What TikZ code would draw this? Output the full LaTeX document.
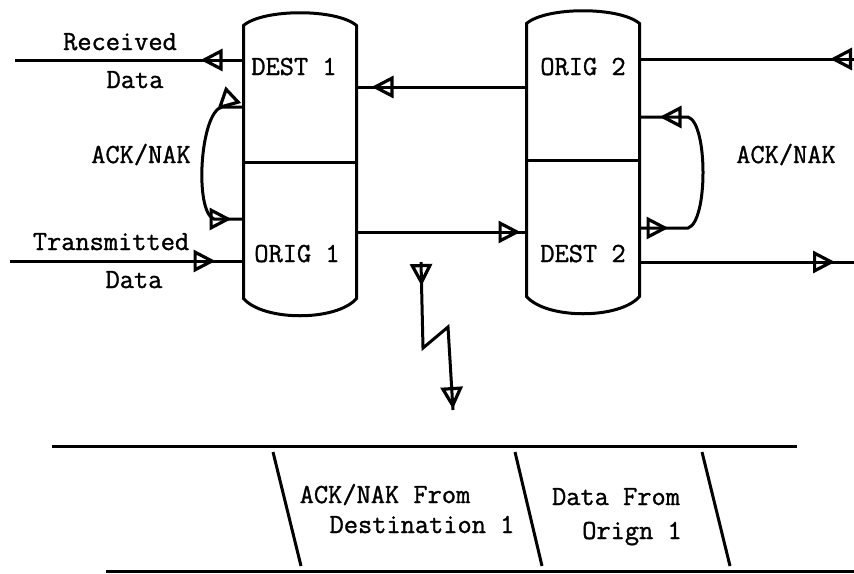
\documentclass[tikz,border=0pt]{standalone}
\usepackage{fontspec}
\setmonofont{Latin Modern Mono}[FakeBold=1.2]
\usepackage{tikz}
\usetikzlibrary{arrows.meta}
\usetikzlibrary{decorations.markings}
\usetikzlibrary{positioning,calc}

\begin{document}
\begin{tikzpicture}[x=0.5pt, y=-0.5pt, line width=1.5pt,
    txt/.style={font=\ttfamily\fontsize{13.8}{16}\selectfont, inner sep=0pt, anchor=base},
    station/.style={minimum width=55pt, minimum height=135pt, inner sep=0pt},
    flowmark/.style={postaction={decorate, decoration={markings,
      mark=at position #1 with {\arrow[line width=1.6pt]{Triangle[open, length=11pt, width=11pt]}}}}}
  ]
  \useasboundingbox (0,0) rectangle (854,573);

  \node[station] (st1) at (300,162) {};
  \node[station] (st2) at (583,160) {};
  \foreach \s in {st1,st2} {
    \draw (\s.south west) -- (\s.north west)
      .. controls ([xshift=10pt,yshift=8.5pt]\s.north west) and ([xshift=-10pt,yshift=8.5pt]\s.north east) .. (\s.north east)
      -- (\s.south east)
      .. controls ([xshift=-10pt,yshift=-11.5pt]\s.south east) and ([xshift=10pt,yshift=-11.5pt]\s.south west) .. cycle;
    \draw (\s.west) -- (\s.east);
  }

  \node[txt] (dest1) at (294,75) {DEST 1};
  \node[txt] (orig1) at (297,262) {ORIG 1};
  \node[txt] (orig2) at (583,75) {ORIG 2};
  \node[txt] (dest2) at (583,262) {DEST 2};

  \node[txt] (rcvd) at (120,50) {Received};
  \node[txt] (rdata) at (135,88) {Data};
  \node[txt] (ackl) at (141,163) {ACK/NAK};
  \node[txt] (tmit) at (111,250) {Transmitted};
  \node[txt] (tdata) at (134,288) {Data};
  \node[txt] (ackr) at (786,163) {ACK/NAK};

  \coordinate (rxend) at (15,60);
  \coordinate (txend) at (10,261);
  \coordinate (inR) at (854,59);
  \coordinate (outR) at (854,262);

  \draw[flowmark=21.5pt] (st1.west |- rxend) -- (rxend);
  \draw[flowmark=-14pt] (txend) -- (st1.west |- txend);
  \draw[flowmark=-7.5pt] (st2.west |- 0,87) -- (st1.east |- 0,87);
  \draw[flowmark=-3pt] (st1.east |- 0,232) -- (st2.west |- 0,232);
  \draw[flowmark=12pt] (inR) -- (st2.east |- inR);
  \draw[flowmark=-9.5pt] (st2.east |- outR) -- (outR);

  \draw[flowmark=13.5pt, flowmark=-6pt] (st1.west |- 0,107) -- (222,107)
    .. controls (200,112) and (194,212) .. (214,219) -- (st1.west |- 0,219);
  \draw[flowmark=14.5pt, flowmark=-10pt] (st2.east |- 0,228) -- (688,228)
    .. controls (708,222) and (708,123) .. (688,117) -- (st2.east |- 0,117);

  \coordinate (bolt) at (421,262);
  \draw[flowmark=12pt, flowmark=-0.5pt] (bolt) -- (423,348) -- (448,327) -- (453,410);

  \draw (52,446) -- (797,446);
  \draw (106,571) -- (854,571);
  \foreach \a/\b in {273/301, 515/542, 702/730}
    \draw (\a,452) -- (\b,566);

  \node[txt] (ackfrom) at (385,503) {ACK/NAK From};
  \node[txt] (dst1) at (422,533) {Destination 1};
  \node[txt] (datafrom) at (616,505) {Data From};
  \node[txt] (orign) at (632,539) {Orign 1};
\end{tikzpicture}
\end{document}
